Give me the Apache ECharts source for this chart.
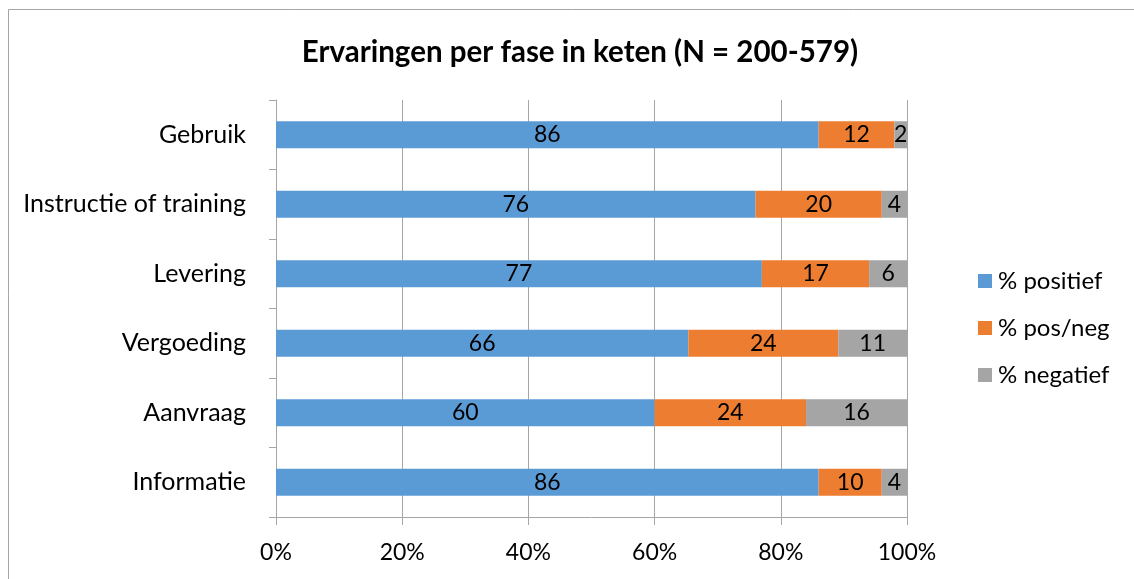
<!DOCTYPE html>
<html><head><meta charset="utf-8">
<script src="https://cdn.jsdelivr.net/npm/echarts@6/dist/echarts.min.js"></script>
<style>html,body{margin:0;padding:0;background:#fff}#c{width:1134px;height:579px}</style>
</head><body><div id="c"></div>
<script>
const categories = ['Informatie', 'Aanvraag', 'Vergoeding', 'Levering', 'Instructie of training', 'Gebruik'];
const positief = [86, 60, 66, 77, 76, 86];
const posneg   = [10, 24, 24, 17, 20, 12];
const negatief = [4, 16, 11, 6, 4, 2];
const seriesNames = ['% positief', '% pos/neg', '% negatief'];
const xTicks = [0, 20, 40, 60, 80, 100];
const colors = ['#5B9BD5', '#ED7D31', '#A5A5A5'];

const raw = [positief, posneg, negatief];
const totals = categories.map((_, i) => positief[i] + posneg[i] + negatief[i]);
const font = 'Lato, Carlito, "Open Sans", sans-serif';

const chart = echarts.init(document.getElementById('c'));
chart.setOption({
  animation: false,
  graphic: [{type: 'rect', shape: {x: 8.5, y: 9.5, width: 1200, height: 700}, style: {fill: 'none', stroke: '#a6a6a6', lineWidth: 1}}],
  title: {text: 'Ervaringen per fase in keten (N = 200-579)', left: 575, textAlign: 'center', top: 32,
    textStyle: {fontFamily: font, fontSize: 29.5, fontWeight: 'bold', color: '#000'}},
  grid: {left: 276, right: 227, top: 100, bottom: 62},
  legend: {orient: 'vertical', left: 973, top: 264, itemGap: 23, itemWidth: 14, itemHeight: 14,
    icon: 'rect', data: seriesNames,
    textStyle: {fontFamily: font, fontSize: 24, color: '#000', padding: [0, 0, 0, 1]}},
  xAxis: {type: 'value', min: xTicks[0], max: xTicks[xTicks.length - 1], interval: 20,
    axisLabel: {formatter: '{value}%', fontFamily: font, fontSize: 23, color: '#000', margin: 24},
    axisLine: {show: true, lineStyle: {color: '#a6a6a6'}},
    axisTick: {show: true, length: 8, lineStyle: {color: '#a6a6a6'}},
    splitLine: {show: true, lineStyle: {color: '#a6a6a6'}}},
  yAxis: {type: 'category', data: categories,
    axisLabel: {fontFamily: font, fontSize: 25, color: '#000', margin: 30},
    axisLine: {show: true, lineStyle: {color: '#a6a6a6'}},
    axisTick: {show: true, length: 7, lineStyle: {color: '#a6a6a6'}}},
  series: seriesNames.map((name, s) => ({
    name, type: 'bar', stack: 'total', barWidth: 27,
    itemStyle: {color: colors[s]},
    label: {show: true, position: 'inside', fontFamily: font, fontSize: 23, color: '#000',
      formatter: p => String(p.data.raw)},
    data: raw[s].map((v, i) => ({value: v / totals[i] * 100, raw: v}))
  }))
});
</script></body></html>
